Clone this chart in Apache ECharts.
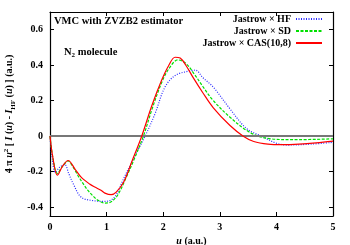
<!DOCTYPE html>
<html>
<head>
<meta charset="utf-8">
<script src="https://cdn.jsdelivr.net/npm/echarts@6/dist/echarts.min.js"></script>
<style>
  html, body { margin: 0; padding: 0; background: #fff; }
  #main { width: 350px; height: 245px; }
</style>
</head>
<body>
<div id="main"></div>
<script>
// Jastrow x HF (blue, dotted)
var uHF = [0, 0.04, 0.094, 0.17, 0.26, 0.33, 0.41, 0.55, 0.73, 0.97, 1.14, 1.3, 1.5, 1.68, 1.855, 2.03, 2.21, 2.44, 2.57, 2.7, 2.886, 3.18, 3.475, 3.74, 4.0, 4.2, 4.6, 5.0];
var vHF = [0, -0.13, -0.203, -0.175, -0.16, -0.21, -0.268, -0.344, -0.362, -0.368, -0.344, -0.24, -0.11, 0, 0.126, 0.276, 0.342, 0.366, 0.372, 0.33, 0.276, 0.154, 0.042, 0, -0.04, -0.05, -0.045, -0.035];
// Jastrow x SD (green, dashed)
var uSD = [0, 0.05, 0.13, 0.22, 0.32, 0.4, 0.49, 0.58, 0.67, 0.76, 0.85, 0.97, 1.08, 1.2, 1.35, 1.5, 1.65, 1.8, 1.97, 2.1, 2.26, 2.4, 2.55, 2.7, 2.886, 3.18, 3.475, 3.68, 3.9, 4.3, 5.0];
var vSD = [0, -0.12, -0.21, -0.17, -0.14, -0.17, -0.22, -0.265, -0.306, -0.337, -0.362, -0.377, -0.37, -0.33, -0.23, -0.12, 0, 0.15, 0.30, 0.38, 0.43, 0.41, 0.35, 0.28, 0.20, 0.107, 0.032, 0, -0.015, -0.02, -0.015];
// Jastrow x CAS(10,8) (red, solid)
var uCAS = [0, 0.05, 0.13, 0.22, 0.32, 0.45, 0.55, 0.7, 0.79, 0.9, 0.97, 1.08, 1.17, 1.3, 1.45, 1.62, 1.8, 1.97, 2.1, 2.21, 2.3, 2.4, 2.53, 2.7, 2.886, 3.18, 3.415, 3.6, 3.85, 4.1, 4.4, 4.7, 5.0];
var vCAS = [0, -0.12, -0.22, -0.17, -0.137, -0.19, -0.231, -0.27, -0.287, -0.305, -0.321, -0.33, -0.315, -0.26, -0.14, 0, 0.173, 0.314, 0.40, 0.445, 0.44, 0.40, 0.33, 0.245, 0.16, 0.06, 0, -0.03, -0.045, -0.048, -0.045, -0.038, -0.028];

var seriesNames = ['Jastrow × HF', 'Jastrow × SD', 'Jastrow × CAS(10,8)'];
var xTicks = [0, 1, 2, 3, 4, 5];
var yTicks = [-0.4, -0.2, 0, 0.2, 0.4, 0.6];

function pairs(us, vs) {
    return us.map(function (u, i) { return [u, vs[i]]; });
}

var font = 'Liberation Serif';
var richBase = {
    n: { fontFamily: font, fontWeight: 'bold', fontSize: 10, color: '#000', lineHeight: 14 },
    i: { fontFamily: font, fontWeight: 'bold', fontStyle: 'italic', fontSize: 10, color: '#000', lineHeight: 14 },
    sup: { fontFamily: font, fontWeight: 'bold', fontSize: 7, color: '#000', verticalAlign: 'top', lineHeight: 14 },
    sub: { fontFamily: font, fontWeight: 'bold', fontSize: 7, color: '#000', verticalAlign: 'bottom', lineHeight: 14 }
};

function frameAxis(extra) {
    var a = {
        type: 'value',
        axisLine: { show: true, onZero: false, lineStyle: { color: '#000', width: 1.2 } },
        axisTick: { show: true, inside: true, length: 4, lineStyle: { color: '#000' } },
        splitLine: { show: false }
    };
    for (var k in extra) a[k] = extra[k];
    return a;
}

var chart = echarts.init(document.getElementById('main'));
chart.setOption({
    animation: false,
    backgroundColor: '#fff',
    title: [
        { text: 'VMC with ZVZB2 estimator', left: 54, top: 16, padding: 0,
          textStyle: { fontFamily: font, fontWeight: 'bold', fontSize: 10.5, color: '#000' } },
        { text: '{n|N}{sub|2}{n| molecule}', left: 64, top: 45, padding: 0,
          textStyle: { rich: {
              n: { fontFamily: font, fontWeight: 'bold', fontSize: 10.5, color: '#000', lineHeight: 14 },
              sub: { fontFamily: font, fontWeight: 'bold', fontSize: 7, color: '#000', verticalAlign: 'bottom', lineHeight: 14 }
          } } }
    ],
    legend: {
        orient: 'vertical',
        right: 27,
        top: 14,
        align: 'right',
        itemWidth: 26,
        itemHeight: 8,
        itemGap: 2,
        padding: 0,
        itemStyle: { opacity: 0, borderWidth: 0 },
        textStyle: { fontFamily: font, fontWeight: 'bold', fontSize: 10, color: '#000', lineHeight: 10 },
        data: seriesNames
    },
    grid: { left: 50, right: 17, top: 12, bottom: 29, outerBoundsMode: 'none', containLabel: false },
    xAxis: [
        frameAxis({
            position: 'bottom', min: 0, max: 5, interval: 1,
            axisLabel: { margin: 6, customValues: xTicks, fontFamily: font, fontWeight: 'bold', fontSize: 10, color: '#000' },
            axisTick: { show: true, inside: true, length: 4, customValues: xTicks, lineStyle: { color: '#000' } },
            name: '{i|u}{n| (a.u.)}', nameLocation: 'middle', nameGap: 15,
            nameTextStyle: { rich: richBase }
        }),
        frameAxis({
            position: 'top', min: 0, max: 5, interval: 1,
            axisLabel: { show: false }
        })
    ],
    yAxis: [
        frameAxis({
            position: 'left', min: -0.45, max: 0.7,
            axisLabel: {
                margin: 7, customValues: yTicks, fontFamily: font, fontWeight: 'bold', fontSize: 10, color: '#000',
                formatter: function (v) { return Math.abs(v) < 1e-9 ? '0' : v.toFixed(1); }
            },
            axisTick: { show: true, inside: true, length: 4, customValues: yTicks, lineStyle: { color: '#000' } },
            name: '{n|4 π }{i|u}{sup|2}{n| [ }{i|I}{n| (}{i|u}{n|) - }{i|I}{sub|HF}{n| (}{i|u}{n|) ] (a.u.)}',
            nameLocation: 'middle', nameRotate: 90, nameGap: 33,
            nameTextStyle: { rich: richBase }
        }),
        frameAxis({
            position: 'right', min: -0.45, max: 0.7,
            axisLabel: { show: false },
            axisTick: { show: true, inside: true, length: 4, customValues: yTicks, lineStyle: { color: '#000' } }
        })
    ],
    series: [
        {
            name: seriesNames[0], type: 'line', data: pairs(uHF, vHF),
            smooth: 0.35, symbol: 'none', z: 3,
            lineStyle: { color: '#2a2aff', width: 1.2, type: [1, 1.5] },
            itemStyle: { color: '#2a2aff' },
            markLine: {
                silent: true, symbol: 'none', label: { show: false },
                lineStyle: { color: '#777', width: 2, type: 'solid' },
                data: [{ yAxis: 0 }]
            }
        },
        {
            name: seriesNames[1], type: 'line', data: pairs(uSD, vSD),
            smooth: 0.35, symbol: 'none', z: 4,
            lineStyle: { color: '#00e000', width: 1.2, type: [3, 1.5] },
            itemStyle: { color: '#00e000' }
        },
        {
            name: seriesNames[2], type: 'line', data: pairs(uCAS, vCAS),
            smooth: 0.35, symbol: 'none', z: 5,
            lineStyle: { color: '#ff0000', width: 1.2, type: 'solid' },
            itemStyle: { color: '#ff0000' }
        }
    ]
});
</script>
</body>
</html>
